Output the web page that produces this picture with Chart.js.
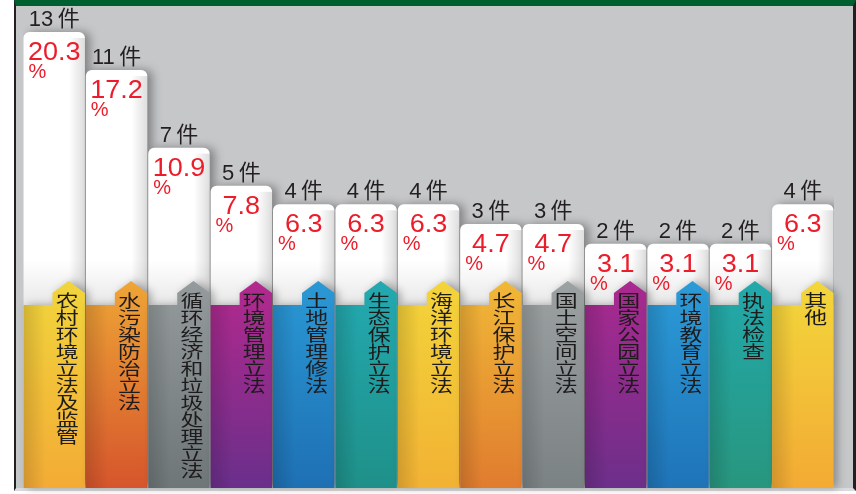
<!DOCTYPE html>
<html>
<head>
<meta charset="utf-8">
<script src="https://cdn.jsdelivr.net/npm/chart.js@4"></script>
<style>
  body { margin: 0; background: #fff; }
  #wrap { position: relative; width: 856px; height: 494px; overflow: hidden; }
  #frame {
    position: absolute; left: 14px; top: 0; width: 837px; height: 482px;
    background: #c6c7c9;
    border-top: 6px solid #005f2e;
    border-left: 2px solid #231f20;
    border-right: 3px solid #231f20;
    border-bottom: 3px solid #dadbdc;
  }
  canvas { position: absolute; left: 0; top: 0; }
</style>
</head>
<body>
<div id="wrap">
  <div id="frame"></div>
  <canvas id="topicChart" width="856" height="494"></canvas>
</div>
<script>
// data
const categories = ['农村环境立法及监管', '水污染防治立法', '循环经济和垃圾处理立法', '环境管理立法',
  '土地管理修法', '生态保护立法', '海洋环境立法', '长江保护立法', '国土空间立法',
  '国家公园立法', '环境教育立法', '执法检查', '其他'];
const counts = [13, 11, 7, 5, 4, 4, 4, 3, 3, 2, 2, 2, 4];
const percents = [20.3, 17.2, 10.9, 7.8, 6.3, 6.3, 6.3, 4.7, 4.7, 3.1, 3.1, 3.1, 6.3];

// band colours (top -> bottom)
const bandTop = ['#f1d53c', '#eea536', '#959b9c', '#b3298e', '#2a98d4', '#23a9b0', '#f3d43a',
  '#f1b837', '#9ca1a2', '#aa298f', '#2b9bd7', '#22a9ab', '#f2d73b'];
const bandBottom = ['#f3ab35', '#d6552c', '#6e7677', '#6a2f8b', '#1e70b4', '#1f9089', '#f2b234',
  '#e07c2f', '#7b8283', '#6c2f8a', '#1f74b8', '#28967e', '#f3aa34'];

const Y_MIN = -16.75;
const Y_MAX = 22;

// shadow behind the white bars
const shadowPlugin = {
  id: 'barShadow',
  beforeDatasetDraw(chart) {
    const c = chart.ctx;
    c.save();
    c.shadowColor = 'rgba(0,0,0,0.35)';
    c.shadowBlur = 10;
    c.shadowOffsetX = 5;
  },
  afterDatasetDraw(chart) {
    chart.ctx.restore();
  }
};

// draw text squeezed or stretched sideways
function wideText(c, str, x, y, sx) {
  c.save();
  c.translate(x, y);
  c.scale(sx, 1);
  c.fillText(str, 0, 0);
  c.restore();
}

// coloured label bands, tabs and all texts
const bandPlugin = {
  id: 'bands',
  afterDatasetsDraw(chart) {
    const c = chart.ctx;
    const area = chart.chartArea;
    const bars = chart.getDatasetMeta(0).data;
    const bottom = area.bottom;
    const top = bottom - 183;

    bars.forEach((bar, i) => {
      const left = bar.x - bar.width / 2;
      const right = bar.x + bar.width / 2;

      // soft shading on the white part
      let g = c.createLinearGradient(right - 16, 0, right, 0);
      g.addColorStop(0, 'rgba(0,0,0,0)');
      g.addColorStop(1, 'rgba(0,0,0,0.13)');
      c.fillStyle = g;
      c.fillRect(right - 16, bar.y + 6, 16, top - bar.y - 6);
      g = c.createLinearGradient(0, top - 45, 0, top);
      g.addColorStop(0, 'rgba(0,0,0,0)');
      g.addColorStop(1, 'rgba(0,0,0,0.09)');
      c.fillStyle = g;
      c.fillRect(left, top - 45, bar.width, 45);

      // band with arrow tab
      const tabL = left + 29;
      const tipX = (tabL + right) / 2;
      c.save();
      c.shadowColor = 'rgba(0,0,0,0.3)';
      c.shadowBlur = 8;
      c.shadowOffsetX = 4;
      c.beginPath();
      c.moveTo(left, bottom);
      c.lineTo(left, top);
      c.lineTo(tabL, top);
      c.lineTo(tabL, top - 12);
      c.lineTo(tipX, top - 24);
      c.lineTo(right, top - 12);
      c.lineTo(right, bottom);
      c.closePath();
      g = c.createLinearGradient(0, top - 24, 0, bottom);
      g.addColorStop(0, bandTop[i]);
      g.addColorStop(1, bandBottom[i]);
      c.fillStyle = g;
      c.fill();
      c.restore();

      g = c.createLinearGradient(left, 0, left + 22, 0);
      g.addColorStop(0, 'rgba(0,0,0,0.14)');
      g.addColorStop(1, 'rgba(0,0,0,0)');
      c.fillStyle = g;
      c.fillRect(left, top, 22, bottom - top);

      // vertical category text, glyphs drawn wide
      c.fillStyle = '#1e1b1c';
      c.font = '17px "Noto Sans CJK SC"';
      c.textAlign = 'center';
      c.textBaseline = 'top';
      [...categories[i]].forEach((ch, k) => {
        wideText(c, ch, tipX - 1.5, top - 13 + k * 17, 1.35);
      });

      // count above the bar
      c.fillStyle = '#231f20';
      c.textBaseline = 'alphabetic';
      c.font = '22px "Liberation Sans", "Noto Sans CJK SC"';
      c.fillText(counts[i] + '\u2009件', bar.x, bar.y - 6);

      // percentage inside the white part
      c.fillStyle = '#ec1c2a';
      c.font = '25px "Liberation Sans"';
      wideText(c, percents[i].toFixed(1), bar.x, bar.y + 28, 1.08);
      c.textAlign = 'left';
      c.font = '20px "Liberation Sans"';
      c.fillText('%', left + 5, bar.y + 46);
    });
  }
};

new Chart(document.getElementById('topicChart'), {
  type: 'bar',
  data: {
    labels: categories,
    datasets: [{
      data: percents,
      base: Y_MIN,
      backgroundColor: '#ffffff',
      borderRadius: { topLeft: 6, topRight: 6 },
      borderSkipped: 'start',
      barPercentage: 0.985,
      categoryPercentage: 1
    }]
  },
  options: {
    responsive: false,
    animation: false,
    layout: { padding: { left: 23, right: 22, top: 11, bottom: 6 } },
    scales: {
      x: { display: false },
      y: { display: false, min: Y_MIN, max: Y_MAX }
    },
    plugins: {
      legend: { display: false },
      tooltip: { enabled: false }
    }
  },
  plugins: [shadowPlugin, bandPlugin]
});
</script>
</body>
</html>
